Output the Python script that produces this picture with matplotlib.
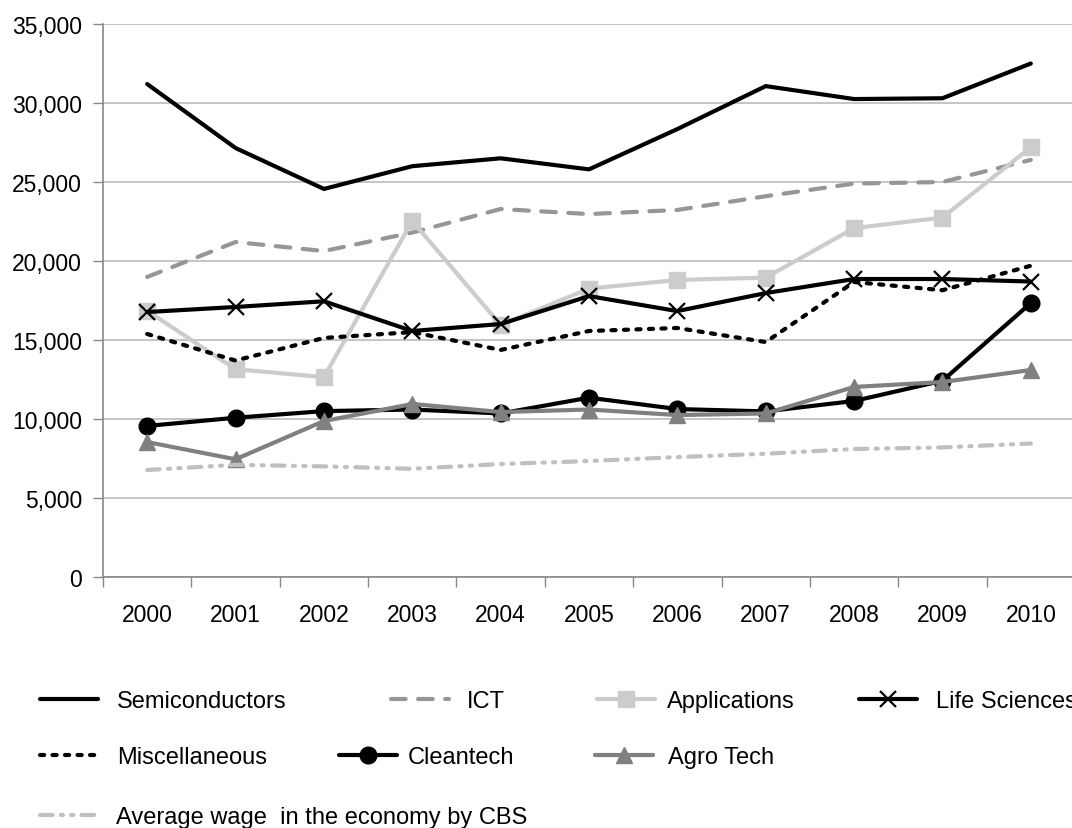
import matplotlib
matplotlib.use('Agg')
import matplotlib.pyplot as plt
import numpy as np
from matplotlib.ticker import FuncFormatter, FixedLocator

plt.rcParams['font.family'] = ['Liberation Sans', 'DejaVu Sans']

years = ['2000', '2001', '2002', '2003', '2004', '2005', '2006', '2007', '2008', '2009', '2010']

semiconductors = [31200, 27150, 24560, 26000, 26500, 25800, 28350, 31070, 30250, 30300, 32500]
ict = [18990, 21200, 20630, 21800, 23290, 22970, 23230, 24100, 24900, 25000, 26400]
applications = [16850, 13150, 12650, 22530, 15950, 18250, 18800, 18950, 22080, 22750, 27200]
life_sciences = [16770, 17090, 17450, 15570, 16010, 17780, 16830, 17970, 18860, 18860, 18700]
miscellaneous = [15380, 13700, 15130, 15500, 14370, 15570, 15760, 14870, 18670, 18150, 19700]
cleantech = [9560, 10080, 10500, 10600, 10350, 11350, 10630, 10480, 11140, 12420, 17340]
agro_tech = [8540, 7450, 9870, 10950, 10440, 10600, 10250, 10350, 12030, 12340, 13100]
avg_wage = [6770, 7100, 7000, 6850, 7150, 7340, 7590, 7800, 8100, 8200, 8450]

fig = plt.figure(figsize=(10.72, 8.29), dpi=100)
ax = fig.add_axes([103/1072, 1 - 578/829, 972/1072, 553/829])

x = np.arange(len(years))
lw = 3.0
series = [
    ('Semiconductors', semiconductors, dict(color='black', lw=lw, ls='-')),
    ('ICT', ict, dict(color='#969696', lw=lw, ls=(0, (3.5, 3)))),
    ('Applications', applications, dict(color='#cccccc', lw=lw, ls='-', marker='s', ms=11)),
    ('Life Sciences', life_sciences, dict(color='black', lw=lw, ls='-', marker='x', ms=12, mew=1.6)),
    ('Miscellaneous', miscellaneous, dict(color='black', lw=lw, ls=(0, (1, 2)))),
    ('Cleantech', cleantech, dict(color='black', lw=lw, ls='-', marker='o', ms=12)),
    ('Agro Tech', agro_tech, dict(color='#808080', lw=lw, ls='-', marker='^', ms=12)),
    ('Average wage  in the economy by CBS', avg_wage, dict(color='#bfbfbf', lw=lw, ls=(0, (3, 2, 0.5, 2, 0.5, 2)))),
]

handles = []
for name, vals, st in series:
    h, = ax.plot(x, vals, label=name, solid_capstyle='round', dash_capstyle='round', **st)
    handles.append(h)

ax.set_xlim(-0.5, 10.5)
ax.set_ylim(0, 35000)
ax.set_yticks(np.arange(0, 35001, 5000))
ax.yaxis.set_major_formatter(FuncFormatter(lambda v, p: f'{int(v):,}'))
ax.set_xticks(x)
ax.set_xticklabels(years)
ax.xaxis.set_minor_locator(FixedLocator(np.arange(-0.5, 10.6, 1)))
ax.tick_params(axis='x', which='major', length=0, pad=19, labelsize=16.5)
ax.tick_params(axis='x', which='minor', length=7, color='#888888', width=1)
ax.tick_params(axis='y', length=7, color='#888888', width=1, labelsize=16.5, pad=8)
ax.grid(axis='y', color='#bbbbbb', lw=1.2)
ax.set_axisbelow(True)
for s in ['top', 'right']:
    ax.spines[s].set_visible(False)
for s in ['left', 'bottom']:
    ax.spines[s].set_color('#888888')
    ax.spines[s].set_linewidth(1.2)

# legend entries placed like the original layout: (handle left px, row y px, text pad)
leg_pos = [(40, 702, 0.8), (391, 702, 0.75), (597, 702, 0.5), (859, 702, 0.8),
           (40, 758, 0.8), (339, 758, 0.45), (595, 758, 0.65),
           (40, 818, 0.75)]
for h, (lx, ly, pad) in zip(handles, leg_pos):
    fig.legend([h], [h.get_label()], loc='center left',
               bbox_to_anchor=(lx / 1072, 1 - ly / 829), frameon=False,
               fontsize=17, handlelength=2.45, handletextpad=pad,
               borderaxespad=0, borderpad=0)

fig.savefig('out.png', dpi=100)
